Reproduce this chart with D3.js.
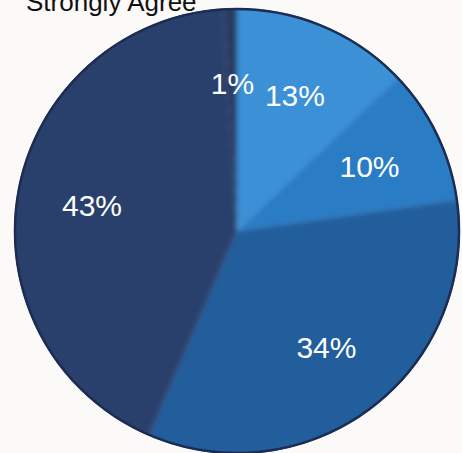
<!DOCTYPE html>
<html>
<head>
<meta charset="utf-8">
<script src="https://cdn.jsdelivr.net/npm/d3@7"></script>
<style>
  html, body { margin: 0; padding: 0; background: #fbfaf8; }
  svg { display: block; }
</style>
</head>
<body>
<div id="chart"></div>
<script>
// data (clockwise from 12 o'clock)
const labels = ["13%", "10%", "34%", "43%", "1%"];
const values = [13, 10, 34, 43, 1];
const colors = ["#3a90d6", "#2a7cc4", "#215d9c", "#2b416c", "#2a3a62"];
const title = "Strongly Agree";

// dimensions
const width = 462,
    height = 453,
    cx = 237,
    cy = 231,
    radius = 223;

const svg = d3.select("#chart")
    .append("svg")
    .attr("width", width)
    .attr("height", height);

// soft edges between slices, like the scanned original
const defs = svg.append("defs");
defs.append("filter")
    .attr("id", "soft")
    .append("feGaussianBlur")
    .attr("stdDeviation", 2.5);
defs.append("clipPath")
    .attr("id", "pie-clip")
    .append("circle")
    .attr("cx", cx)
    .attr("cy", cy)
    .attr("r", radius);

const pie = d3.pie()
    .sort(null)
    .value(d => d.value);

const data = values.map((v, i) => ({ value: v, label: labels[i], color: colors[i] }));
const arcs = pie(data);

const arc = d3.arc()
    .innerRadius(0)
    .outerRadius(radius + 6);

const labelArc = d3.arc()
    .innerRadius(radius * 0.66)
    .outerRadius(radius * 0.66);

// slices
svg.append("g")
    .attr("clip-path", "url(#pie-clip)")
    .append("g")
    .attr("transform", `translate(${cx},${cy})`)
    .attr("filter", "url(#soft)")
    .selectAll(".slice")
    .data(arcs)
    .enter()
    .append("path")
    .attr("class", "slice")
    .attr("d", arc)
    .attr("fill", d => d.data.color);

const overlay = svg.append("g")
    .attr("transform", `translate(${cx},${cy})`);

// dark rim round the pie
overlay.append("circle")
    .attr("r", radius - 1)
    .attr("fill", "none")
    .attr("stroke", "#1c2c52")
    .attr("stroke-width", 2.5);

// percent labels
overlay.selectAll(".label")
    .data(arcs)
    .enter()
    .append("text")
    .attr("class", "label")
    .attr("transform", d => `translate(${labelArc.centroid(d)})`)
    .attr("text-anchor", "middle")
    .attr("dominant-baseline", "central")
    .style("font-family", "'Liberation Sans', Arial, sans-serif")
    .style("font-size", "30px")
    .attr("fill", "#ffffff")
    .text(d => d.data.label);

// title, cut off at top
svg.append("text")
    .attr("x", 26)
    .attr("y", 11)
    .style("font-family", "'Liberation Sans', Arial, sans-serif")
    .style("font-size", "26px")
    .attr("fill", "#111111")
    .text(title);
</script>
</body>
</html>
